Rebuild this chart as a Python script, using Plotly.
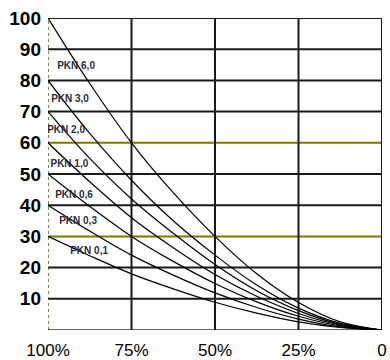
import plotly.graph_objects as go

# x positions (% remaining), left = 100%, right = 0
x_pct = [100, 87.5, 75, 62.5, 50, 37.5, 25, 12.5, 0]

pkn_60 = [100, 79, 60, 44, 30, 18, 8.8, 2.6, 0]
pkn_30 = [80, 63, 48, 35, 24, 14.4, 7.0, 2.1, 0]
pkn_20 = [70, 55, 42, 31, 21, 12.6, 6.2, 1.8, 0]
pkn_10 = [60, 47.5, 36, 26.4, 17.8, 10.8, 5.3, 1.6, 0]
pkn_06 = [50, 39.6, 30, 22, 14.9, 9.0, 4.4, 1.3, 0]
pkn_03 = [40, 31.7, 24, 17.6, 11.9, 7.2, 3.5, 1.0, 0]
pkn_01 = [30, 23.8, 18, 13.2, 8.9, 5.4, 2.6, 0.8, 0]
series = [pkn_60, pkn_30, pkn_20, pkn_10, pkn_06, pkn_03, pkn_01]

label_text = ["PKN 6,0", "PKN 3,0", "PKN 2,0", "PKN 1,0", "PKN 0,6", "PKN 0,3", "PKN 0,1"]
label_x = [91.6, 93.4, 94.6, 93.6, 92.2, 91.0, 87.7]
label_y = [84.6, 74.0, 63.8, 52.9, 43.0, 34.7, 25.3]

y_ticks = [10, 20, 30, 40, 50, 60, 70, 80, 90, 100]
x_ticks = [100, 75, 50, 25, 0]
x_tick_labels = ["100%", "75%", "50%", "25%", "0"]
olive_levels = [30, 60]

fig = go.Figure()
for s in series:
    fig.add_trace(go.Scatter(x=x_pct, y=s, mode="lines",
                             line=dict(color="black", width=1.2, shape="spline"),
                             showlegend=False, hoverinfo="skip"))

fig.add_trace(go.Scatter(x=label_x, y=label_y, mode="text", text=label_text,
                         textfont=dict(family="Liberation Sans", size=10, color="#2b2b3a", weight="bold"),
                         showlegend=False, hoverinfo="skip"))

shapes = []
for v in y_ticks:
    col = "#7a7a00" if v in olive_levels else "#1a1a1a"
    shapes.append(dict(type="line", xref="paper", yref="y", x0=0, x1=1, y0=v, y1=v,
                       line=dict(color=col, width=2), layer="below"))
for v in [75, 50, 25, 0]:
    shapes.append(dict(type="line", xref="x", yref="paper", x0=v, x1=v, y0=0, y1=1,
                       line=dict(color="#1a1a1a", width=2), layer="below"))
shapes.append(dict(type="line", xref="x", yref="paper", x0=100, x1=100, y0=0, y1=1,
                   line=dict(color="#5a5a20", width=1.5, dash="dot"), layer="below"))
shapes.append(dict(type="line", xref="paper", yref="y", x0=0, x1=1, y0=0, y1=0,
                   line=dict(color="#333333", width=1.5), layer="below"))

fig.update_layout(
    width=390, height=360,
    margin=dict(l=48, r=8, t=18, b=30),
    paper_bgcolor="white", plot_bgcolor="white",
    shapes=shapes,
    xaxis=dict(range=[100, 0], tickvals=x_ticks, ticktext=x_tick_labels,
               showgrid=False, zeroline=False, showline=False, ticks="",
               automargin=False, ticklabelstandoff=8,
               tickfont=dict(family="Liberation Sans", size=17, color="black")),
    yaxis=dict(range=[0, 100], tickvals=y_ticks, showgrid=False, zeroline=False,
               showline=False, ticks="", ticklabelstandoff=6, automargin=False,
               tickfont=dict(family="Liberation Sans", size=19, color="black", weight="bold")),
)

fig.write_html("out.html", config={"displayModeBar": False},
               post_script="document.body.style.margin='0';")
